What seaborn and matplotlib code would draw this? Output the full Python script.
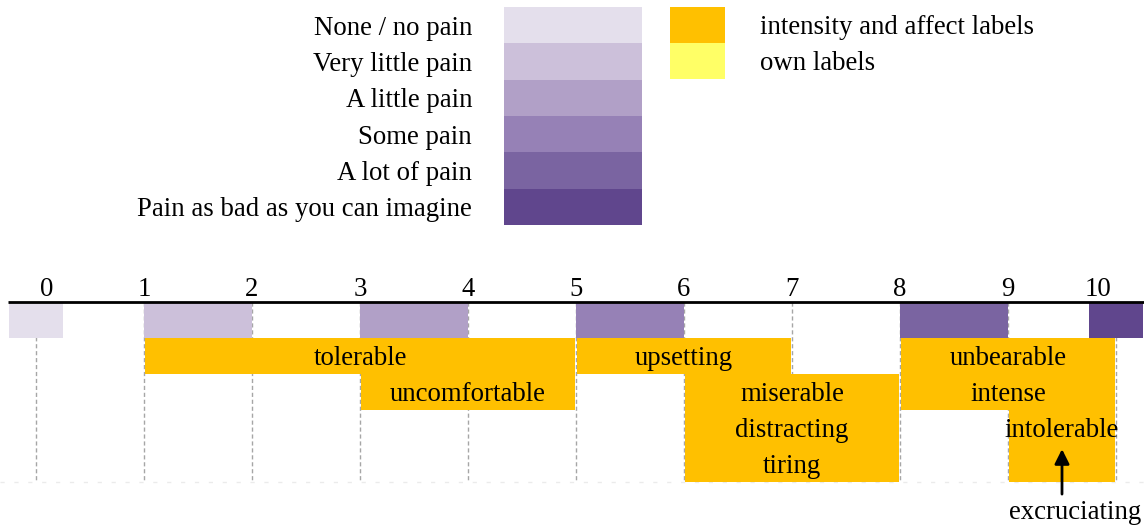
import numpy as np
import matplotlib
matplotlib.use('Agg')
import matplotlib.pyplot as plt
from matplotlib.colors import ListedColormap
import seaborn as sns

# Legend: pain levels and their colours
pain_levels = ['None / no pain', 'Very little pain', 'A little pain', 'Some pain',
               'A lot of pain', 'Pain as bad as you can imagine']
purples = ['#E4DFEC', '#CCC0DA', '#B1A0C7', '#9681B6', '#7A64A1', '#60468D']
key_labels = ['intensity and affect labels', 'own labels']
key_colors = ['#FFC000', '#FFFF66']

# Scale 0-10
scale_ticks = list(range(11))
tick_labels = [str(t) for t in scale_ticks]
tick_label_x = [0.1, 1, 2, 3, 4, 5, 6, 7, 8, 9, 9.83]

# Pain level blocks along the scale (level index -> colour)
level_idx = [0, 1, 2, 3, 4, 5]
level_start = [-0.25, 1, 3, 5, 8, 9.75]
level_end = [0.25, 2, 4, 6, 9, 10.25]

# Word label boxes
word_labels = [['tolerable'], ['uncomfortable'], ['upsetting'],
               ['miserable', 'distracting', 'tiring'], ['unbearable', 'intense'], ['intolerable']]
word_start = [1, 3, 5, 6, 8, 9]
word_end = [5, 5, 7, 8, 10, 10]
word_row_top = [1, 2, 1, 2, 1, 3]
word_row_bottom = [2, 3, 2, 5, 3, 5]

arrow_label = 'excruciating'
arrow_x = 9.5

sns.set_style('white')
plt.rcParams['font.family'] = ['Liberation Serif', 'DejaVu Serif']
plt.rcParams['text.color'] = 'black'
plt.rcParams['ytick.color'] = 'black'
plt.rcParams['ytick.labelcolor'] = 'black'
FS = 19.3
VA = 'center_baseline'

W, H = 1144, 526
fig = plt.figure(figsize=(W / 100, H / 100), dpi=100)

# purple key
ax1 = fig.add_axes([504 / W, 1 - 225 / H, 138 / W, 218 / H])
sns.heatmap(np.array(level_idx).reshape(-1, 1), cmap=ListedColormap(purples), cbar=False,
            xticklabels=False, yticklabels=pain_levels, linewidths=0, ax=ax1)
ax1.tick_params(axis='y', length=0, pad=23, labelsize=FS, labelrotation=0, labelcolor='black')
for t in ax1.get_yticklabels():
    t.set_va(VA)

# orange / yellow key
ax2 = fig.add_axes([670 / W, 1 - 79 / H, 55 / W, 72 / H])
sns.heatmap(np.arange(len(key_colors)).reshape(-1, 1), cmap=ListedColormap(key_colors), cbar=False,
            xticklabels=False, yticklabels=key_labels, linewidths=0, ax=ax2)
ax2.yaxis.tick_right()
ax2.tick_params(axis='y', length=0, pad=25, labelsize=FS, labelrotation=0, labelcolor='black')
for t in ax2.get_yticklabels():
    t.set_va(VA)

# main scale
ax = fig.add_axes([0, 0, 1, 256 / H])
ax.set_xlim(-1 / 3, (W - 36) / 108)
ax.set_ylim(6.236, -0.875)
ax.axis('off')

ax.vlines(scale_ticks, 0, 5, colors='#A6A6A6', linestyles=(0, (3, 2)), lw=1, zorder=1)
ax.hlines(5, -0.33, 10.3, colors='#EBEBEB', linestyles=(0, (3, 7)), lw=1, zorder=1)

for i, s, e in zip(level_idx, level_start, level_end):
    ax.barh(0.5, e - s, left=s, height=1, color=purples[i], lw=0, zorder=2)

for lines, s, e, top, bot in zip(word_labels, word_start, word_end, word_row_top, word_row_bottom):
    ax.barh((top + bot) / 2, e - s - 0.02, left=s + 0.01, height=bot - top, color=key_colors[0],
            lw=0, zorder=2)
    for j, line in enumerate(lines):
        ax.text((s + e) / 2, top + 0.5 + j, line, ha='center', va=VA, fontsize=FS, zorder=4)

ax.hlines(0, -0.26, 10.3, colors='black', lw=2, zorder=3)
for x, lab in zip(tick_label_x, tick_labels):
    ax.text(x, -0.42, lab, ha='center', va=VA, fontsize=FS)

ax.annotate('', xy=(arrow_x, 4.1), xytext=(arrow_x, 5.35),
            arrowprops=dict(arrowstyle='-|>', lw=2, color='black', mutation_scale=22,
                            shrinkA=0, shrinkB=0), zorder=5)
ax.text(9.62, 5.78, arrow_label, ha='center', va=VA, fontsize=FS)

fig.savefig('out.png', dpi=100)
